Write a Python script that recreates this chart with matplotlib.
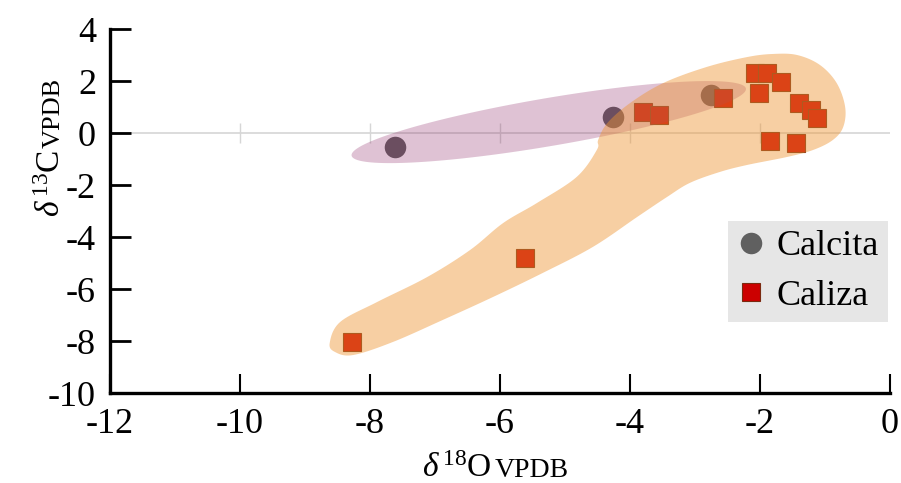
import numpy as np
import matplotlib
matplotlib.use("Agg")
import matplotlib.pyplot as plt
from matplotlib.patches import Polygon

plt.rcParams['font.family'] = ['Liberation Serif', 'DejaVu Serif']
plt.rcParams['mathtext.fontset'] = 'custom'
plt.rcParams['mathtext.rm'] = 'Liberation Serif'
plt.rcParams['mathtext.it'] = 'Liberation Serif:italic'

# ---------------- data ----------------
calcita_x = [-7.62, -4.26, -2.76]
calcita_y = [-0.55, 0.63, 1.47]

caliza_x = [-8.27, -5.61, -3.80, -3.55, -2.57, -2.08, -1.89, -2.02, -1.67,
            -1.40, -1.22, -1.13, -1.84, -1.44]
caliza_y = [-8.03, -4.80, 0.80, 0.69, 1.36, 2.30, 2.31, 1.53, 1.97,
            1.14, 0.88, 0.58, -0.30, -0.37]

x_ticks = [-12, -10, -8, -6, -4, -2, 0]
y_ticks = [-10, -8, -6, -4, -2, 0, 2, 4]

# hand-drawn field around the limestone (Caliza) samples, data units
blob_x = [-8.62, -8.46, -7.89, -7.12, -6.46, -5.95, -5.43, -4.82, -4.51, -4.49,
          -4.35, -4.00, -3.49, -2.82, -2.20, -1.80, -1.43, -1.08, -0.82, -0.69,
          -0.72, -0.88, -1.18, -1.58, -2.20, -2.62, -3.08, -3.43, -3.89,
          -4.57, -5.34, -6.11, -6.88, -7.65, -8.26, -8.54]
blob_y = [-8.08, -7.27, -6.50, -5.54, -4.50, -3.46, -2.69, -1.69, -0.65, -0.27,
          0.38, 1.15, 1.92, 2.54, 2.92, 3.04, 3.00, 2.62, 1.92, 1.00,
          0.23, -0.27, -0.65, -0.92, -1.23, -1.50, -1.92, -2.46, -3.23,
          -4.38, -5.38, -6.31, -7.19, -8.04, -8.54, -8.42]

# ellipse around the calcite samples
ell_center = (-5.25, 0.42)
ell_half_axes_px = (200, 24)
ell_angle_deg = 9.65

# ---------------- figure ----------------
W, H = 901, 483
fig = plt.figure(figsize=(W / 100, H / 100), dpi=100)
fig.patch.set_facecolor('white')
ax = fig.add_axes([110 / W, 90 / H, 780 / W, 364 / H])
ax.set_xlim(-12, 0)
ax.set_ylim(-10, 4)

# zero line with small tick marks
ax.axhline(0, color='#D6D6D6', lw=1.2, zorder=1)
ax.vlines(x_ticks[1:-1], -0.4, 0.4, color='#D6D6D6', lw=1.0, zorder=1)

# markers (drawn under the translucent fields)
ax.plot(calcita_x, calcita_y, 'o', ms=15.5, color='#606060', mec='none',
        zorder=2, label='Calcita')
ax.plot(caliza_x, caliza_y, 's', ms=13, color='#CC0000', mec='#7A2A10',
        mew=0.8, zorder=2, label='Caliza')

# ellipse field
t = np.linspace(0, 2 * np.pi, 200)
a, b = ell_half_axes_px
th = np.deg2rad(ell_angle_deg)
cdisp = ax.transData.transform(ell_center)
px = cdisp[0] + a * np.cos(t) * np.cos(th) - b * np.sin(t) * np.sin(th)
py = cdisp[1] + a * np.cos(t) * np.sin(th) + b * np.sin(t) * np.cos(th)
ell_pts = ax.transData.inverted().transform(np.column_stack([px, py]))
ax.add_patch(Polygon(ell_pts, closed=True, facecolor='#892160', alpha=0.27,
                     edgecolor='none', zorder=3))

# smooth closed blob (Catmull-Rom)
P = np.column_stack([blob_x, blob_y])
n = len(P)
pts = []
for i in range(n):
    p0, p1, p2, p3 = P[(i - 1) % n], P[i], P[(i + 1) % n], P[(i + 2) % n]
    for s in np.linspace(0, 1, 12, endpoint=False):
        s2, s3 = s * s, s * s * s
        pts.append(0.5 * ((2 * p1) + (-p0 + p2) * s +
                          (2 * p0 - 5 * p1 + 4 * p2 - p3) * s2 +
                          (-p0 + 3 * p1 - 3 * p2 + p3) * s3))
ax.add_patch(Polygon(np.array(pts), closed=True, facecolor='#EE9533',
                     alpha=0.45, edgecolor='none', zorder=4))

# axes styling
for side in ('top', 'right'):
    ax.spines[side].set_visible(False)
for side in ('left', 'bottom'):
    ax.spines[side].set_linewidth(2.4)
    ax.spines[side].set_color('black')
ax.set_xticks(x_ticks)
ax.set_yticks(y_ticks)
ax.set_xticklabels([str(v) for v in x_ticks])
ax.set_yticklabels([str(v) for v in y_ticks])
ax.tick_params(axis='y', direction='in', length=15, width=2.0, pad=10,
               labelsize=26)
ax.tick_params(axis='x', direction='in', length=14, width=1.5, pad=11,
               labelsize=26)

leg = ax.legend(loc='lower right', bbox_to_anchor=(0.997, 0.195),
                borderaxespad=0, fontsize=26, frameon=True, fancybox=False,
                facecolor='#E6E6E6', edgecolor='none', framealpha=1,
                handlelength=0.8, handletextpad=0.3, borderpad=0.25,
                labelspacing=0.45)

# axis titles: main part + "VPDB" on the same baseline
ftr = fig.transFigure
fig.canvas.draw()
renderer = fig.canvas.get_renderer()

xl_main = fig.text(422 / W, (H - 477) / H, r'$\mathit{δ}^{\,18}$O', fontsize=24,
                   ha='left', va='baseline', transform=ftr)
bb = xl_main.get_window_extent(renderer)
fig.text((bb.x1 + 3) / W, (H - 477) / H, 'VPDB', fontsize=20,
         ha='left', va='baseline', transform=ftr)

yl_main = fig.text(60 / W, (H - 217) / H, r'$\mathit{δ}^{\,13}$C', fontsize=24,
                   rotation=90, rotation_mode='anchor',
                   ha='left', va='baseline', transform=ftr)
bb = yl_main.get_window_extent(renderer)
fig.text(60 / W, (bb.y1 + 2) / H, 'VPDB', fontsize=19,
         rotation=90, rotation_mode='anchor',
         ha='left', va='baseline', transform=ftr)

fig.savefig('out.png', dpi=100)
